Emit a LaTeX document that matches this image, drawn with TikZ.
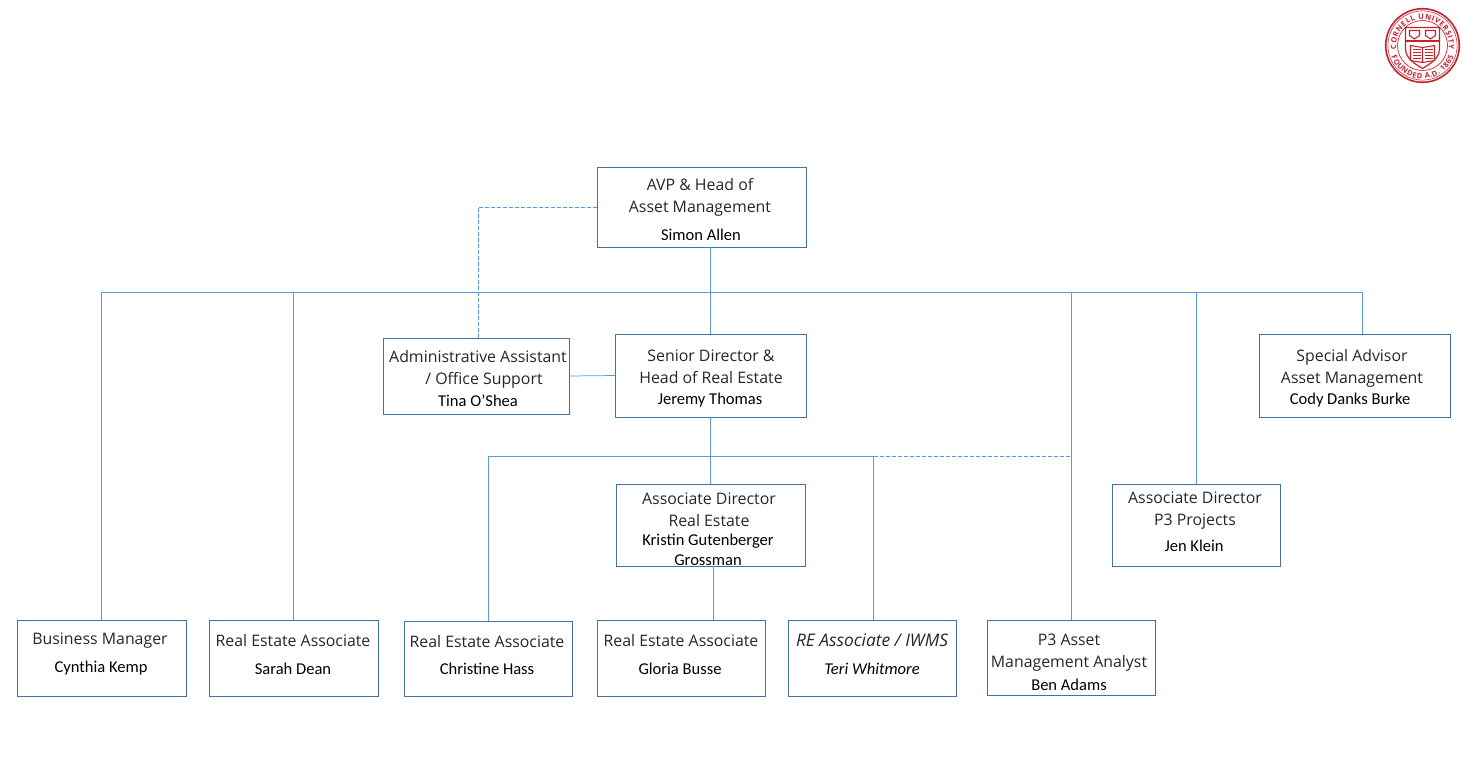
\documentclass[tikz,border=0pt]{standalone}
\usepackage{fontspec}
\setmainfont{Carlito}
\newfontfamily\rolefont{Open Sans}
\usetikzlibrary{calc,fit,decorations.text}
\definecolor{boxblue}{HTML}{41719C}
\definecolor{lineblue}{HTML}{5B9BD5}
\definecolor{cornellred}{HTML}{C4222B}
\tikzset{
    orgbox/.style={draw=boxblue,line width=0.6pt,inner sep=0pt,outer sep=0pt},
    roletext/.style={align=center,inner sep=0pt,yshift=-0.8pt,text=black!85,font=\rolefont\fontsize{11.9}{16.5}\selectfont},
    nametext/.style={align=center,inner sep=0pt,yshift=-0.3pt,text=black,font=\fontsize{12.4}{15}\selectfont},
    link/.style={draw=lineblue,line width=0.55pt},
    dashlink/.style={link,dash pattern=on 3pt off 1.5pt},
    sealtop/.style={decorate,decoration={text along path,text align=fit to path,text color=cornellred,
        text={|\rolefont\bfseries\fontsize{5.6}{6}\selectfont|CORNELL UNIVERSITY}}},
    sealbottom/.style={decorate,decoration={text along path,text align=fit to path,text color=cornellred,
        text={|\rolefont\bfseries\fontsize{5.6}{6}\selectfont|FOUNDED A.D. 1865}}}
}
\begin{document}
\begin{tikzpicture}[x=0.75pt,y=-0.75pt]
    \useasboundingbox (0,0) rectangle (1466,763);
    % boxes
    \node[orgbox,fit={(597,167) (806,247)}] (avp) {};
    \node[orgbox,fit={(383,338) (569,414)}] (admin) {};
    \node[orgbox,fit={(615,334) (806,417)}] (srdir) {};
    \node[orgbox,fit={(1259,334) (1450,417)}] (special) {};
    \node[orgbox,fit={(616,484) (805,566)}] (assocdir) {};
    \node[orgbox,fit={(1112,484) (1280,566)}] (projdir) {};
    \node[orgbox,fit={(17,620) (186,696)}] (bizmgr) {};
    \node[orgbox,fit={(209,620) (378,696)}] (sarah) {};
    \node[orgbox,fit={(404,621) (572,696)}] (christine) {};
    \node[orgbox,fit={(597,620) (765,696)}] (gloria) {};
    \node[orgbox,fit={(788,620) (956,696)}] (teri) {};
    \node[orgbox,fit={(987,620) (1155,695)}] (ben) {};
    % titles and names
    \node[roletext] (avprole) at (700,196) {AVP \& Head of\\Asset Management};
    \node[nametext] (avpname) at (701,234) {Simon Allen};
    \node[roletext] (adminrole) at (478,368) {Administrative Assistant\\\hspace*{9pt}/ Office Support};
    \node[nametext] (adminname) at (478,400) {Tina O’Shea};
    \node[roletext] (srdirrole) at (711,365.5) {Senior Director \&\\Head of Real Estate};
    \node[nametext] (srdirname) at (710,400) {Jeremy Thomas};
    \node[roletext] (specialrole) at (1352,367) {Special Advisor\\Asset Management};
    \node[nametext] (specialname) at (1350,400) {Cody Danks Burke};
    \node[roletext] (assocrole) at (709,508.5) {Associate Director\\Real Estate};
    \node[nametext] (assocname) at (708,549) {Kristin Gutenberger\\Grossman};
    \node[roletext] (projrole) at (1195,510) {Associate Director\\P3 Projects};
    \node[nametext] (projname) at (1194,545) {Jen Klein};
    \node[roletext] (bizrole) at (100,640) {Business Manager};
    \node[nametext] (bizname) at (101,668) {Cynthia Kemp};
    \node[roletext] (sarahrole) at (293,639.5) {Real Estate Associate};
    \node[nametext] (sarahname) at (293,668) {Sarah Dean};
    \node[roletext] (christinerole) at (487,640) {Real Estate Associate};
    \node[nametext] (christinename) at (487,668) {Christine Hass};
    \node[roletext] (gloriarole) at (681,639.5) {Real Estate Associate};
    \node[nametext] (glorianame) at (680,668) {Gloria Busse};
    \node[roletext] (terirole) at (872,639.5) {\fontsize{13}{16}\selectfont\itshape RE Associate / IWMS};
    \node[nametext] (teriname) at (872,668) {\itshape Teri Whitmore};
    \node[roletext] (benrole) at (1069,652) {P3 Asset\\Management Analyst};
    \node[nametext] (benname) at (1069,684) {Ben Adams};
    % upper bus
    \coordinate (busleft) at (bizmgr.north |- 0,292);
    \coordinate (busright) at (1362,292);
    \draw[link] (busleft) -- (busright);
    \draw[link] (busleft) -- (bizmgr.north);
    \draw[link] (sarah.north |- busleft) -- (sarah.north);
    \draw[link] (ben.north |- busleft) -- (ben.north);
    \draw[link] (projdir.north |- busleft) -- (projdir.north);
    \draw[link] (busright) -- (busright |- special.north);
    \draw[link] (srdir.north |- avp.south) -- (srdir.north);
    \coordinate (admintop) at (478,338);
    \draw[dashlink] (avp.west) -| (admintop);
    \draw[link] (admin.east) -- (srdir.west);
    % lower bus
    \coordinate (lowleft) at (christine.north |- 0,456);
    \coordinate (lowmid) at (873.5,456);
    \coordinate (lowright) at (ben.north |- 0,456);
    \draw[link] (lowleft) -- (lowmid);
    \draw[dashlink] (lowmid) -- (lowright);
    \draw[link] (lowleft) -- (christine.north);
    \draw[link] (lowmid) -- (lowmid |- teri.north);
    \draw[link] (srdir.south) -- (assocdir.north);
    \coordinate (glorialink) at (713,566);
    \draw[link] (glorialink) -- (glorialink |- gloria.north);
    % seal
    \begin{scope}[shift={(1422.5,45.5)},x=0.75pt,y=0.75pt]
        \draw[cornellred,line width=1.2pt] (0,0) circle (36.8);
        \draw[cornellred,line width=0.4pt] (0,0) circle (34.6);
        \draw[cornellred,line width=0.5pt] (0,0) circle (25);
        \path[sealtop] (188:26.3) arc (188:-8:26.3);
        \path[sealbottom] (200:33.2) arc (200:340:33.2);
        \draw[cornellred,line width=0.9pt] (-17,18) -- (17,18) -- (17,-3) .. controls (17,-14) and (6,-19) .. (0,-23) .. controls (-6,-19) and (-17,-14) .. (-17,-3) -- cycle;
        \draw[cornellred,line width=0.8pt] (-17,4.5) -- (17,4.5);
        \draw[cornellred,line width=0.8pt] (-13,15) -- (-3,15) -- (-3,10) -- (-8,6.5) -- (-13,10) -- cycle;
        \draw[cornellred,line width=0.8pt] (3,15) -- (13,15) -- (13,10) -- (8,6.5) -- (3,10) -- cycle;
        \draw[cornellred,line width=0.8pt] (-12,0) -- (0,-2) -- (12,0) -- (12,-15) -- (0,-17) -- (-12,-15) -- cycle (0,-2) -- (0,-17);
        \foreach \yy in {-4,-7,-10,-13} {
            \draw[cornellred,line width=0.7pt] (-10,\yy) -- (-2,\yy) (2,\yy) -- (10,\yy);
        }
    \end{scope}
\end{tikzpicture}
\end{document}
